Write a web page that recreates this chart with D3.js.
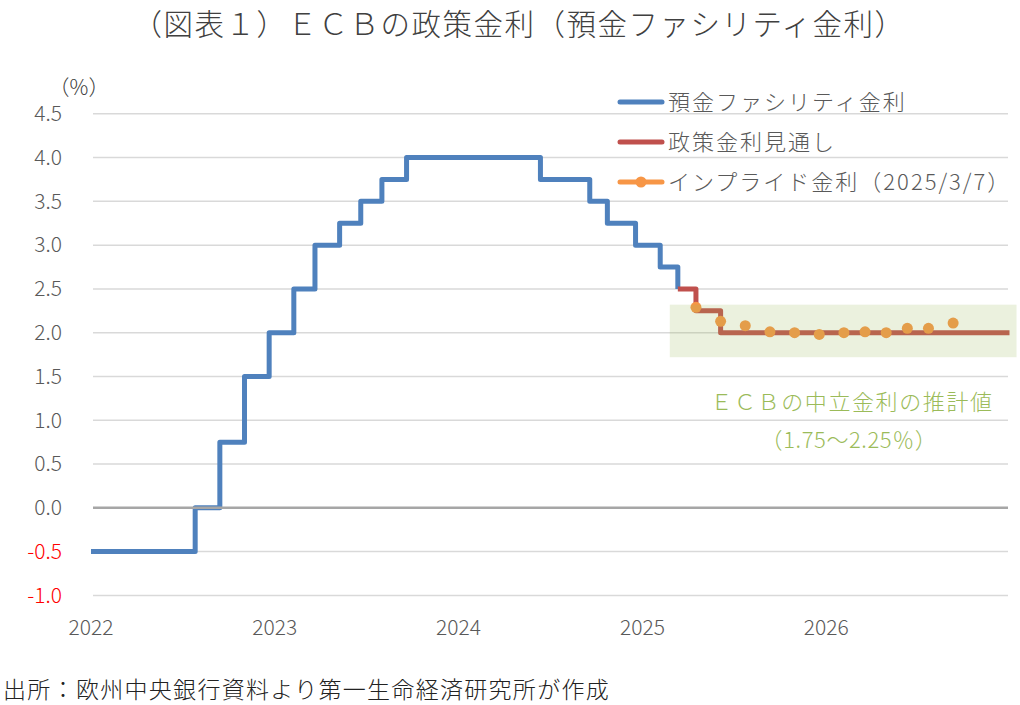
<!DOCTYPE html>
<html>
<head>
<meta charset="utf-8">
<script src="https://cdn.jsdelivr.net/npm/d3@7"></script>
<style>
  body { margin: 0; background: #fff; }
  svg text { font-family: "Noto Sans CJK JP", "Noto Sans", sans-serif; font-weight: 300; }
</style>
</head>
<body>
<div id="chart-area"></div>
<script>
// 預金ファシリティ金利 (actual)
let depoDates = ["2022-01-01", "2022-07-27", "2022-09-14", "2022-11-02", "2022-12-21", "2023-02-08",
  "2023-03-22", "2023-05-10", "2023-06-21", "2023-08-02", "2023-09-20", "2024-06-12",
  "2024-09-18", "2024-10-23", "2024-12-18", "2025-02-05", "2025-03-12"]
let depoRates = [-0.5, 0.0, 0.75, 1.5, 2.0, 2.5, 3.0, 3.25, 3.5, 3.75, 4.0, 3.75, 3.5, 3.25, 3.0, 2.75, 2.5]

// 政策金利見通し
let outlookDates = ["2025-03-12", "2025-04-17", "2025-06-05", "2026-12-31"]
let outlookRates = [2.5, 2.25, 2.0, 2.0]

// インプライド金利（2025/3/7）
let impliedDates = ["2025-04-17", "2025-06-05", "2025-07-24", "2025-09-11", "2025-10-30", "2025-12-18",
  "2026-02-05", "2026-03-19", "2026-04-30", "2026-06-11", "2026-07-23", "2026-09-10"]
let impliedRates = [2.29, 2.13, 2.08, 2.01, 2.00, 1.98, 2.00, 2.01, 2.00, 2.05, 2.05, 2.11]

// 中立金利の帯
let bandDates = ["2025-02-24", "2027-01-14"]
let bandRates = [1.72, 2.32]

let yTicks = [4.5, 4.0, 3.5, 3.0, 2.5, 2.0, 1.5, 1.0, 0.5, 0.0, -0.5, -1.0]
let xTickYears = ["2022", "2023", "2024", "2025", "2026"]
let seriesNames = ["預金ファシリティ金利", "政策金利見通し", "インプライド金利（2025/3/7）"]

let width = 1020
let height = 705
let parse = d3.timeParse("%Y-%m-%d")

let svg = d3.select("#chart-area")
  .append("svg")
    .attr("width", width)
    .attr("height", height)

let x = d3.scaleTime()
  .domain([parse("2022-01-01"), parse("2027-01-01")])
  .range([91, 1010])
let y = d3.scaleLinear().domain([4.5, -1.0]).range([113.8, 595.4])

let plotLeft = 93, plotRight = 1008

// title
svg.append("text")
  .attr("x", 519).attr("y", 35)
  .attr("text-anchor", "middle")
  .attr("font-size", "29.5px")
  .attr("letter-spacing", "1.5px")
  .style("fill", "#404040")
  .text("（図表１）ＥＣＢの政策金利（預金ファシリティ金利）")

// unit
svg.append("text")
  .attr("x", 79).attr("y", 95)
  .attr("text-anchor", "middle")
  .attr("font-size", "21px")
  .style("fill", "#404040")
  .text("（%）")

// gridlines
svg.append("g").selectAll("line").data(yTicks.filter(d => d !== 0)).enter()
  .append("line")
    .attr("x1", plotLeft).attr("x2", plotRight)
    .attr("y1", d => y(d)).attr("y2", d => y(d))
    .attr("stroke", "#d9d9d9").attr("stroke-width", 1.5)

// y labels
svg.append("g").selectAll("text").data(yTicks).enter()
  .append("text")
    .attr("x", 62)
    .attr("y", d => y(d))
    .attr("dy", "0.35em")
    .attr("text-anchor", "end")
    .attr("font-size", "21px")
    .style("fill", d => d < 0 ? "#ff0000" : "#595959")
    .text(d => d.toFixed(1))

// x labels
svg.append("g").selectAll("text").data(xTickYears).enter()
  .append("text")
    .attr("x", d => x(parse(d + "-01-01")))
    .attr("y", 635)
    .attr("text-anchor", "middle")
    .attr("font-size", "21px")
    .style("fill", "#595959")
    .text(d => d)

let stepLine = d3.line()
  .x(d => x(d.date))
  .y(d => y(d.rate))
  .curve(d3.curveStepAfter)

let depo = depoDates.map((d, i) => ({date: parse(d), rate: depoRates[i]}))
let outlook = outlookDates.map((d, i) => ({date: parse(d), rate: outlookRates[i]}))
let implied = impliedDates.map((d, i) => ({date: parse(d), rate: impliedRates[i]}))

svg.append("path")
  .datum(depo)
  .attr("d", stepLine)
  .attr("fill", "none")
  .attr("stroke", "#4f81bd")
  .attr("stroke-width", 5)
  .attr("stroke-linejoin", "round")

svg.append("path")
  .datum(outlook)
  .attr("d", stepLine)
  .attr("fill", "none")
  .attr("stroke", "#c0504d")
  .attr("stroke-width", 5)
  .attr("stroke-linejoin", "round")

// zero line over the series
svg.append("line")
  .attr("x1", plotLeft).attr("x2", plotRight)
  .attr("y1", y(0)).attr("y2", y(0))
  .attr("stroke", "#a6a6a6").attr("stroke-width", 2.5)

svg.append("g").selectAll("circle").data(implied).enter()
  .append("circle")
    .attr("cx", d => x(d.date))
    .attr("cy", d => y(d.rate))
    .attr("r", 5.5)
    .attr("fill", "#f79646")

// neutral rate band (semi transparent, drawn on top)
svg.append("rect")
  .attr("x", x(parse(bandDates[0])))
  .attr("y", y(bandRates[1]))
  .attr("width", x(parse(bandDates[1])) - x(parse(bandDates[0])))
  .attr("height", y(bandRates[0]) - y(bandRates[1]))
  .attr("fill", "#9bbb59")
  .attr("fill-opacity", 0.2)

svg.append("text")
  .attr("x", 852).attr("y", 410)
  .attr("text-anchor", "middle")
  .attr("font-size", "22px")
  .attr("letter-spacing", "1.6px")
  .style("fill", "#9bbb59")
  .text("ＥＣＢの中立金利の推計値")

svg.append("text")
  .attr("x", 849).attr("y", 448)
  .attr("text-anchor", "middle")
  .attr("font-size", "22px")
  .attr("letter-spacing", "0.6px")
  .style("fill", "#9bbb59")
  .text("（1.75～2.25％）")

// legend
let legendY = [102, 142, 182]
let legendColors = ["#4f81bd", "#c0504d", "#f79646"]
let legend = svg.append("g").selectAll("g").data(seriesNames).enter()
  .append("g")
    .attr("transform", (d, i) => "translate(620, " + legendY[i] + ")")

legend.append("line")
  .attr("x1", 0).attr("x2", 42)
  .attr("stroke", (d, i) => legendColors[i])
  .attr("stroke-width", 5)
  .attr("stroke-linecap", "round")

legend.filter((d, i) => i === 2).append("circle")
  .attr("cx", 21).attr("r", 5.5)
  .attr("fill", "#f79646")

legend.append("text")
  .attr("x", 48).attr("y", 0)
  .attr("dy", "0.35em")
  .attr("font-size", "22px")
  .attr("letter-spacing", "2px")
  .style("fill", "#595959")
  .text(d => d)

// source
svg.append("text")
  .attr("x", 3).attr("y", 698)
  .attr("font-size", "23px")
  .attr("letter-spacing", "1.3px")
  .style("fill", "#222")
  .text("出所：欧州中央銀行資料より第一生命経済研究所が作成")
</script>
</body>
</html>
